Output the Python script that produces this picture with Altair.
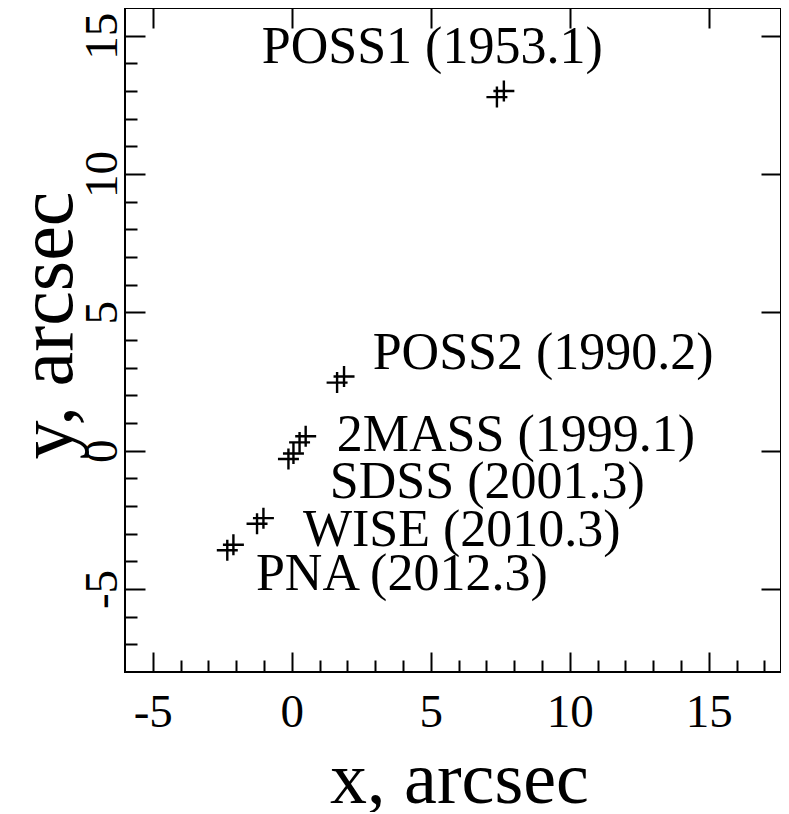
import altair as alt
import pandas as pd

# ---- data ----
names = ["POSS1 (1953.1)", "POSS2 (1990.2)", "2MASS (1999.1)",
         "SDSS (2001.3)", "WISE (2010.3)", "PNA (2012.3)"]
# two overlapping measurements per epoch (lower-left and upper-right cross)
xa = [7.38, 1.63, 0.28, -0.12, -1.25, -2.32]
ya = [12.78, 2.46, 0.30, -0.30, -2.64, -3.60]
xb = [7.63, 1.88, 0.50, 0.06, -1.02, -2.10]
yb = [13.00, 2.68, 0.52, -0.10, -2.44, -3.40]
# label anchor (left edge, vertical middle) in data units
label_x = [-1.08, 2.91, 1.62, 1.37, 0.40, -1.29]
label_y = [14.60, 3.53, 0.58, -1.15, -2.88, -4.46]

x_major = [-5, 0, 5, 10, 15]
y_major = [-5, 0, 5, 10, 15]
x_all = list(range(-5, 18))
y_all = list(range(-7, 16))

df = pd.DataFrame({"name": names, "xa": xa, "ya": ya, "xb": xb, "yb": yb,
                   "lx": label_x, "ly": label_y})

W, H = 656, 664
FONT = "Liberation Serif"
xs = alt.Scale(domain=[-6, 17.6], nice=False, zero=False)
ys = alt.Scale(domain=[-8, 16], nice=False, zero=False)
tick_len = {"condition": {"test": "datum.value % 5 === 0", "value": 20}, "value": 12}

# main axes: labels + titles, no ticks
ax_x_main = alt.Axis(orient="bottom", values=x_major, ticks=False, tickSize=0,
                     domain=False, grid=False, labelFont=FONT, labelFontSize=47,
                     labelColor="black", labelPadding=17, labelFlush=False,
                     labelExpr="'' + datum.value",
                     titleFont=FONT, titleFontSize=74, titleFontWeight="normal",
                     titleColor="black", titleX=334, titleY=130,
                     titleBaseline="alphabetic", titleAlign="center")
ax_y_main = alt.Axis(orient="left", values=y_major, ticks=False, tickSize=0,
                     domain=False, grid=False, labelFont=FONT, labelFontSize=47,
                     labelColor="black", labelPadding=9, labelFlush=False,
                     labelAngle=-90, labelAlign="center", labelBaseline="alphabetic",
                     labelExpr="'' + datum.value",
                     titleFont=FONT, titleFontSize=78, titleFontWeight="normal",
                     titleColor="black", titleX=-54, titleY=317, titleAngle=-90,
                     titleBaseline="alphabetic", titleAlign="center")
# inward ticks on bottom/left (major + minor)
ax_x_in = alt.Axis(orient="top", offset=-H, values=x_all, labels=False,
                   domain=False, grid=False, tickColor="black", tickWidth=2,
                   tickSize=tick_len)
ax_y_in = alt.Axis(orient="right", offset=-W, values=y_all, labels=False,
                   domain=False, grid=False, tickColor="black", tickWidth=2,
                   tickSize=tick_len)
# inward ticks on top/right (major only)
ax_x_top = alt.Axis(orient="bottom", offset=-H, values=x_major, labels=False,
                    domain=False, grid=False, tickColor="black", tickWidth=2,
                    tickSize=20)
ax_y_right = alt.Axis(orient="left", offset=-W, values=y_major, labels=False,
                      domain=False, grid=False, tickColor="black", tickWidth=2,
                      tickSize=20)

plus = "M-1,0L1,0M0,-1L0,1"

pts_a = alt.Chart(df).mark_point(shape=plus, filled=False, stroke="black",
                                 strokeWidth=2.4, size=440, opacity=1).encode(
    x=alt.X("xa:Q", scale=xs, axis=ax_x_main, title="x, arcsec"),
    y=alt.Y("ya:Q", scale=ys, axis=ax_y_main, title="y, arcsec"),
)
pts_b = alt.Chart(df).mark_point(shape=plus, filled=False, stroke="black",
                                 strokeWidth=2.4, size=440, opacity=1).encode(
    x=alt.X("xb:Q", scale=xs, axis=ax_x_in, title=""),
    y=alt.Y("yb:Q", scale=ys, axis=ax_y_in, title=""),
)
labels = alt.Chart(df).mark_text(align="left", baseline="middle", font=FONT,
                                 fontSize=52, color="black").encode(
    x=alt.X("lx:Q", scale=xs, axis=ax_x_top, title=""),
    y=alt.Y("ly:Q", scale=ys, axis=ax_y_right, title=""),
    text="name:N",
)

chart = alt.layer(pts_a, pts_b, labels).resolve_scale(
    x="independent", y="independent"
).resolve_axis(
    x="independent", y="independent"
).properties(
    width=W, height=H,
    autosize=alt.AutoSizeParams(type="none"),
    padding={"left": 117, "top": 0, "right": 0, "bottom": 140},
    background="white",
).configure_view(stroke="black", strokeWidth=2)

chart.save("out.html", embed_options={"renderer": "svg", "actions": False})
